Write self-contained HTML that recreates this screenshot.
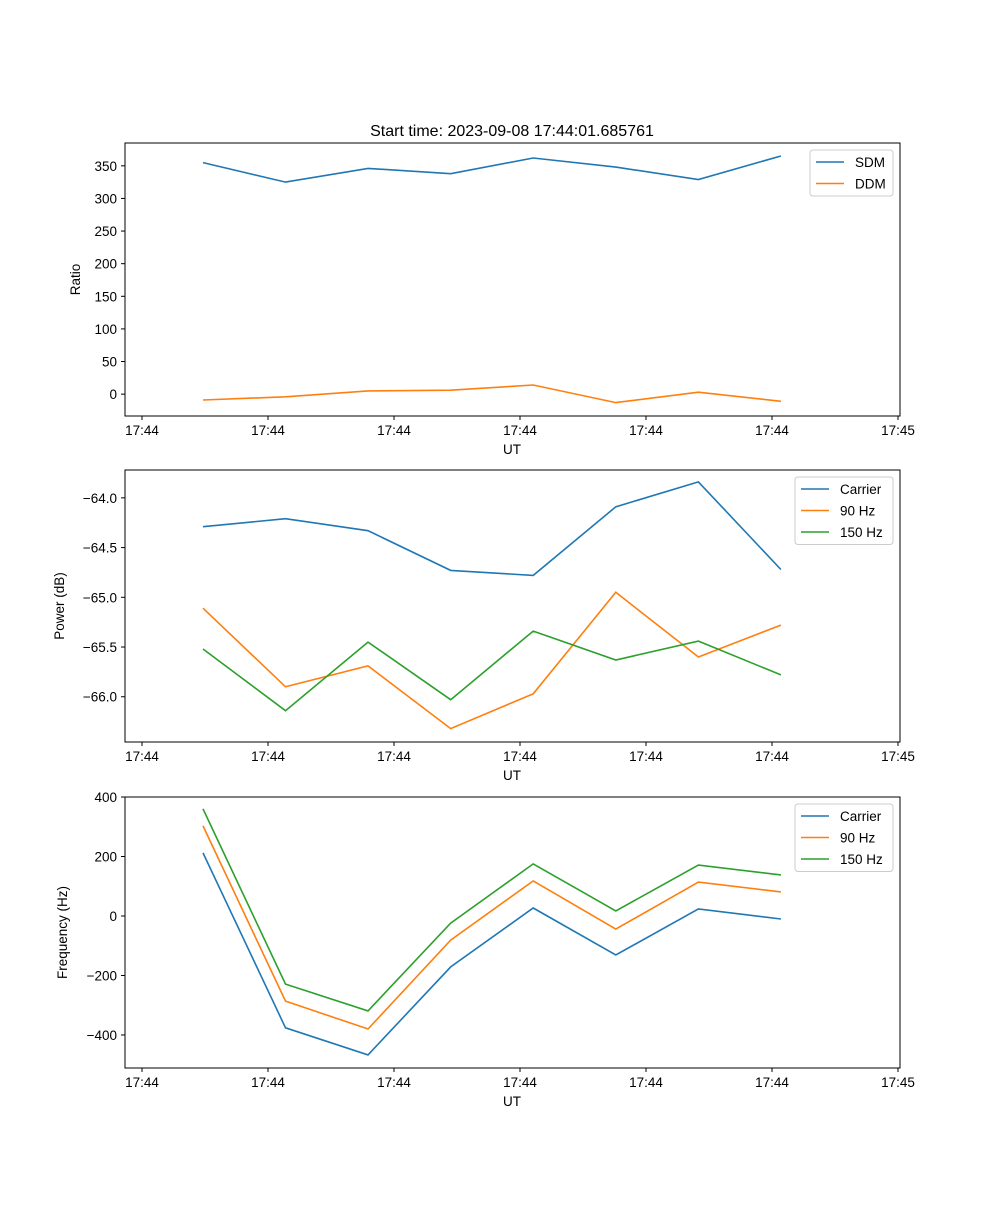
<!DOCTYPE html>
<html><head><meta charset="utf-8"><style>
body{margin:0;background:#fff}
svg{font-family:"Liberation Sans","DejaVu Sans",sans-serif}
</style></head><body>
<svg id="fig" width="1000" height="1200" xmlns="http://www.w3.org/2000/svg">
<rect width="1000" height="1200" fill="#fff"/>
<text x="512" y="136" font-size="16" text-anchor="middle">Start time: 2023-09-08 17:44:01.685761</text>
</svg>
<script>
const times=[4.84,11.39,17.94,24.5,31.05,37.6,44.16,50.71];
const xTickVals=[0,10,20,30,40,50,60];
const xTickLabels=["17:44","17:44","17:44","17:44","17:44","17:44","17:45"];
const sdm=[355,325,346,338,362,348,329,365];
const ddm=[-9,-4,5,6,14,-13,3,-11];
const powCarrier=[-64.29,-64.21,-64.33,-64.73,-64.78,-64.09,-63.84,-64.72];
const pow90=[-65.11,-65.90,-65.69,-66.32,-65.97,-64.95,-65.60,-65.28];
const pow150=[-65.52,-66.14,-65.45,-66.03,-65.34,-65.63,-65.44,-65.78];
const freqCarrier=[212,-376,-467,-171,27,-131,24,-10];
const freq90=[303,-286,-380,-81,118,-44,114,81];
const freq150=[360,-229,-319,-24,175,17,171,138];
const ticks1=[0,50,100,150,200,250,300,350];
const ticks2=[-66,-65.5,-65,-64.5,-64];
const ticks2Labels=["−66.0","−65.5","−65.0","−64.5","−64.0"];
const ticks3=[-400,-200,0,200,400];
const ticks3Labels=["−400","−200","0","200","400"];

const NS="http://www.w3.org/2000/svg";
const svg=document.getElementById('fig');
function mk(tag,attrs,parent){const e=document.createElementNS(NS,tag);for(const k in attrs)e.setAttribute(k,attrs[k]);(parent||svg).appendChild(e);return e;}
const X0=125,X1=900,T0=-1.35,T1=60.16;
const xs=t=>X0+(t-T0)/(T1-T0)*(X1-X0);

function panel(name,top,bot,d0,d1,ticks,labels,ylabel,ylx,series,legend){
  const g=mk('g',{});
  
  
  const ys=v=>bot-(v-d0)/(d1-d0)*(bot-top);
  series.forEach(s=>{
    const pts=s.vals.map((v,i)=>xs(times[i]).toFixed(1)+','+ys(v).toFixed(1)).join(' ');
    const p=mk('polyline',{points:pts,fill:'none',stroke:s.color,'stroke-width':1.6},g);
    
    
  });
  mk('rect',{x:X0,y:top,width:X1-X0,height:bot-top,fill:'none',stroke:'#000','stroke-width':1},g);
  xTickVals.forEach((t,i)=>{
    const x=xs(t);
    mk('line',{x1:x,x2:x,y1:bot,y2:bot+4,stroke:'#000'},g);
    const tx=mk('text',{x:x,y:bot+19,'font-size':13.5,'text-anchor':'middle'},g);
    tx.textContent=xTickLabels[i];
    
    
  });
  ticks.forEach((v,i)=>{
    const y=ys(v);
    mk('line',{x1:X0-4,x2:X0,y1:y,y2:y,stroke:'#000'},g);
    const tx=mk('text',{x:X0-8,y:y+5,'font-size':13.5,'text-anchor':'end'},g);
    tx.textContent=labels[i];
    
    
  });
  const xl=mk('text',{x:512,y:bot+38,'font-size':13.5,'text-anchor':'middle'},g);
  xl.textContent='UT';
  
  
  const yl=mk('text',{x:ylx,y:(top+bot)/2,'font-size':13.5,'text-anchor':'middle',transform:`rotate(-90 ${ylx} ${(top+bot)/2})`},g);
  yl.textContent=ylabel;
  
  
  const lg=mk('g',{},g);
  
  
  mk('rect',{x:legend.x,y:top+7,width:893-legend.x,height:series.length*21.5+3,rx:3,fill:'#fff',stroke:'#ccc'},lg);
  series.forEach((s,i)=>{
    const y=top+19+i*21.5;
    mk('line',{x1:legend.x+6,x2:legend.x+34,y1:y,y2:y,stroke:s.color,'stroke-width':1.6},lg);
    const t=mk('text',{x:legend.x+45,y:y+5,'font-size':13.5},lg);
    t.textContent=s.label;
    
    
  });
}
const B='#1f77b4',O='#ff7f0e',G='#2ca02c';
panel('ratio',143,416,-33.5,385,ticks1,ticks1.map(String),'Ratio',80,
 [{key:'sdm',label:'SDM',vals:sdm,color:B},{key:'ddm',label:'DDM',vals:ddm,color:O}],{x:810});
panel('power',470,742,-66.455,-63.72,ticks2,ticks2Labels,'Power (dB)',64,
 [{key:'carrier',label:'Carrier',vals:powCarrier,color:B},{key:'90hz',label:'90 Hz',vals:pow90,color:O},{key:'150hz',label:'150 Hz',vals:pow150,color:G}],{x:795});
panel('frequency',797,1068,-511,400,ticks3,ticks3Labels,'Frequency (Hz)',67,
 [{key:'carrier',label:'Carrier',vals:freqCarrier,color:B},{key:'90hz',label:'90 Hz',vals:freq90,color:O},{key:'150hz',label:'150 Hz',vals:freq150,color:G}],{x:795});
</script>
</body></html>
